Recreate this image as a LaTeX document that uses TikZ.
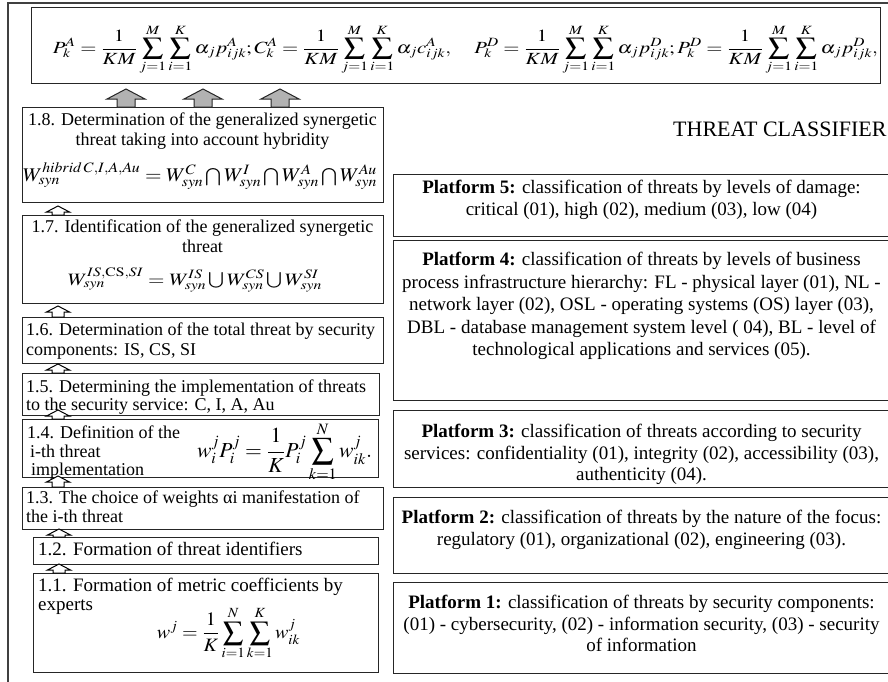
\documentclass[tikz,border=0pt]{standalone}
\usepackage{mathptmx}
\usepackage{fontspec}
\setmainfont{Liberation Serif}
\usepackage{graphicx}
\usetikzlibrary{calc}
\tikzset{
  frameline/.style={draw=black!75, line width=1.2pt},
  boxnode/.style={draw=black!85, line width=1pt, inner sep=0pt, anchor=north west},
  lefttext/.style={inner sep=0pt, anchor=north west, align=left, font=\fontsize{18}{20}\selectfont},
  centertext/.style={inner sep=0pt, anchor=north, align=center, font=\fontsize{18}{20}\selectfont},
  plattext/.style={inner sep=0pt, anchor=north, align=center, font=\fontsize{19}{22}\selectfont},
  mathnode/.style={inner sep=0pt, anchor=center, font=\fontsize{18}{20}\selectfont},
  greyarrow/.style={draw=black!85, line width=1pt, fill=black!30, line join=miter},
  whitearrow/.style={draw=black, line width=1pt, fill=white, line join=miter},
}
\newcommand\BigArr[5]{%
  \path[greyarrow] let \p1=(#2.north), \p2=(#3.south), \n1={\y1-(#4)}, \n2={\y2+(#5)}, \n3={\y2+(#5)-10pt} in
   ({#1-9pt},\n1) -- ({#1-9pt},\n3) -- ({#1-19pt},\n3) -- (#1,\n2)
   -- ({#1+19pt},\n3) -- ({#1+9pt},\n3) -- ({#1+9pt},\n1) -- cycle;}
\newcommand\SmallArr[5]{%
  \path[whitearrow] let \p1=(#2.north), \p2=(#3.south), \n1={\y1-(#4)}, \n2={\y2+(#5)}, \n3={\y2+(#5)-6pt} in
   ({#1-6pt},\n1) -- ({#1-6pt},\n3) -- ({#1-11.5pt},\n3) -- (#1,\n2)
   -- ({#1+11.5pt},\n3) -- ({#1+6pt},\n3) -- ({#1+6pt},\n1) -- cycle;}
\begin{document}
\begin{tikzpicture}[x=1pt,y=-1pt]
\useasboundingbox (0,0) rectangle (888,681);
\clip (0,0) rectangle (888,681);
\fill[white] (0,0) rectangle (888,681);
\draw[frameline] (8,3) rectangle (905,700);

% top formula box
\node[boxnode, minimum width=849pt, minimum height=76pt] (F) at (31,7) {};
\node[mathnode] (mF) at (465.5,50) {\resizebox*{825pt}{50pt}{$\displaystyle
 P_k^{A}=\frac{1}{KM}\sum_{j=1}^{M}\sum_{i=1}^{K}\alpha_j p_{ijk}^{A};C_k^{A}=\frac{1}{KM}\sum_{j=1}^{M}\sum_{i=1}^{K}\alpha_j c_{ijk}^{A},\quad
 P_k^{D}=\frac{1}{KM}\sum_{j=1}^{M}\sum_{i=1}^{K}\alpha_j p_{ijk}^{D};P_k^{D}=\frac{1}{KM}\sum_{j=1}^{M}\sum_{i=1}^{K}\alpha_j p_{ijk}^{D},$}};

% left column boxes
\node[boxnode, minimum width=361pt, minimum height=95pt] (b18) at (22,107) {};
\node[boxnode, minimum width=361pt, minimum height=88pt] (b17) at (22,215) {};
\node[boxnode, minimum width=361pt, minimum height=46pt] (b16) at (22,317) {};
\node[boxnode, minimum width=357pt, minimum height=42pt] (b15) at (22,373) {};
\node[boxnode, minimum width=356pt, minimum height=58pt] (b14) at (22,419) {};
\node[boxnode, minimum width=361pt, minimum height=42pt] (b13) at (22,487) {};
\node[boxnode, minimum width=345pt, minimum height=27pt] (b12) at (33,537) {};
\node[boxnode, minimum width=345pt, minimum height=99pt] (b11) at (33,573) {};

\node[centertext] (t18) at (202.5,112.7) {1.8. Determination of the generalized synergetic\\threat taking into account hybridity};
\node[mathnode] (m18) at (200,176) {\resizebox*{354pt}{27pt}{$W_{syn}^{hibrid\,C,I,A,Au}=W_{syn}^{C}\bigcap W_{syn}^{I}\bigcap W_{syn}^{A}\bigcap W_{syn}^{Au}$}};

\node[centertext] (t17) at (202.5,219.7) {1.7. Identification of the generalized synergetic\\threat};
\node[mathnode] (m17) at (195,280) {\resizebox*{254pt}{24pt}{$W_{syn}^{IS,\mathrm{CS},SI}=W_{syn}^{IS}\bigcup W_{syn}^{CS}\bigcup W_{syn}^{SI}$}};

\node[lefttext] (t16) at (26,322.7) {1.6. Determination of the total threat by security\\components: IS, CS, SI};
\node[lefttext, font=\fontsize{18}{17.5}\selectfont] (t15) at (26,379.7) {1.5. Determining the implementation of threats\\to the security service: C, I, A, Au};
\node[lefttext, font=\fontsize{18}{18.5}\selectfont] (t14) at (27,425.7) {1.4. Definition of the\\\hspace*{3pt}i-th threat\\\hspace*{4pt}implementation};
\node[mathnode] (m14) at (284.5,452) {\resizebox*{175pt}{60pt}{$\displaystyle w_i^j P_i^j=\frac{1}{K}P_i^j\sum_{k=1}^{N}w_{ik}^j.$}};
\node[lefttext, font=\fontsize{18}{19}\selectfont] (t13) at (26,490.7) {1.3. The choice of weights αi manifestation of\\the i-th threat};
\node[lefttext, font=\fontsize{19}{20}\selectfont] (t12) at (38,542) {1.2. Formation of threat identifiers};
\node[lefttext, font=\fontsize{19}{19}\selectfont] (t11) at (38,578) {1.1. Formation of metric coefficients by\\experts};
\node[mathnode] (m11) at (228.5,633.5) {\resizebox*{143pt}{53pt}{$\displaystyle w^j=\frac{1}{K}\sum_{i=1}^{N}\sum_{k=1}^{K}w_{ik}^j$}};

% right column
\node[inner sep=0pt, anchor=base west, font=\fontsize{22}{24}\selectfont] (title) at (673,136) {THREAT CLASSIFIER};

\node[boxnode, minimum width=497pt, minimum height=62pt] (p5) at (393,174) {};
\node[boxnode, minimum width=497pt, minimum height=160pt] (p4) at (393,240) {};
\node[boxnode, minimum width=497pt, minimum height=77pt] (p3) at (393,410) {};
\node[boxnode, minimum width=497pt, minimum height=76pt] (p2) at (393,497) {};
\node[boxnode, minimum width=497pt, minimum height=91pt] (p1) at (393,582) {};

\node[plattext] (q5) at (641.5,180) {\textbf{Platform 5:} classification of threats by levels of damage:\\critical (01), high (02), medium (03), low (04)};
\node[plattext, font=\fontsize{19}{22.5}\selectfont] (q4) at (641.5,252) {\textbf{Platform 4:} classification of threats by levels of business\\process infrastructure hierarchy: FL - physical layer (01), NL -\\network layer (02), OSL - operating systems (OS) layer (03),\\DBL - database management system level ( 04), BL - level of\\technological applications and services (05).};
\node[plattext, font=\fontsize{19}{21.5}\selectfont] (q3) at (641.5,424) {\textbf{Platform 3:} classification of threats according to security\\services: confidentiality (01), integrity (02), accessibility (03),\\authenticity (04).};
\node[plattext] (q2) at (641.5,510) {\textbf{Platform 2:} classification of threats by the nature of the focus:\\regulatory (01), organizational (02), engineering (03).};
\node[plattext, font=\fontsize{19}{21.5}\selectfont] (q1) at (641.5,595) {\textbf{Platform 1:} classification of threats by security components:\\(01) - cybersecurity, (02) - information security, (03) - security\\of information};

% arrows
\BigArr{126pt}{b18}{F}{0pt}{-5pt}
\BigArr{203pt}{b18}{F}{0pt}{-5pt}
\BigArr{280pt}{b18}{F}{0pt}{-5pt}
\SmallArr{58pt}{b17}{b18}{0pt}{-3pt}
\SmallArr{58pt}{b16}{b17}{0pt}{-2pt}
\SmallArr{58pt}{b15}{b16}{0pt}{0pt}
\SmallArr{58pt}{b14}{b15}{0pt}{6pt}
\SmallArr{58pt}{b13}{b14}{0pt}{2pt}
\SmallArr{59pt}{b12}{b13}{0pt}{1pt}
\SmallArr{59pt}{b11}{b12}{0pt}{1pt}
\end{tikzpicture}
\end{document}
